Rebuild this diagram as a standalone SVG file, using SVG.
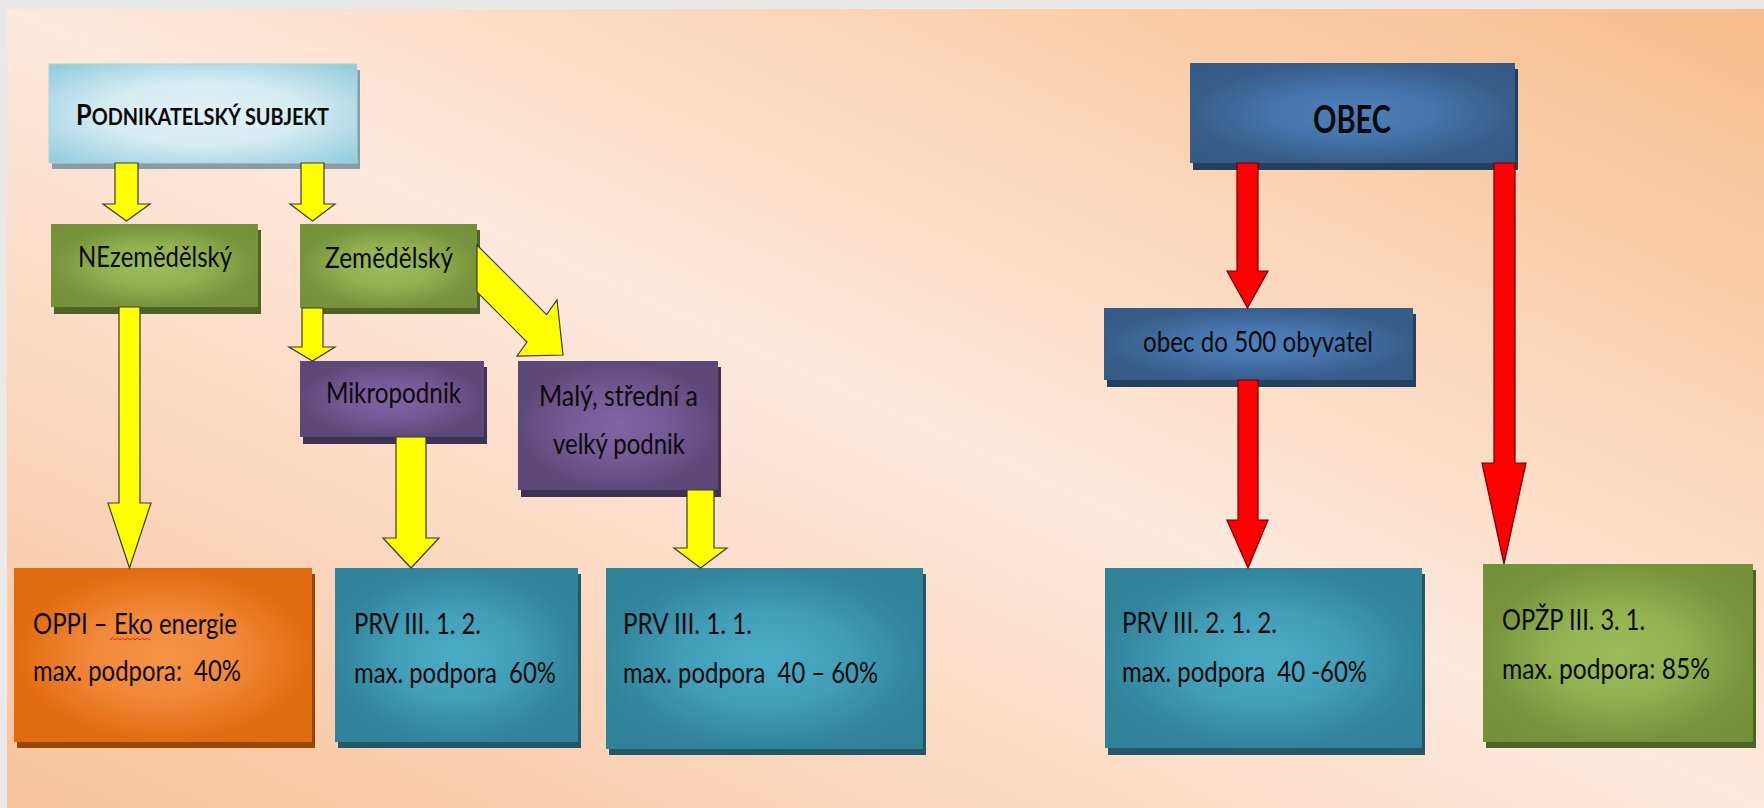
<svg xmlns="http://www.w3.org/2000/svg" width="1764" height="808" viewBox="0 0 1764 808" xml:space="preserve">
<defs>
<linearGradient id="bg" x1="1" y1="0" x2="0" y2="1">
<stop offset="0" stop-color="#f8bd8b"/>
<stop offset="0.5" stop-color="#fde9dd"/>
<stop offset="1" stop-color="#f8c29a"/>
</linearGradient>
<radialGradient id="gBlue" cx="0.5" cy="0.5" r="0.71">
<stop offset="0" stop-color="#e2f1f6"/>
<stop offset="0.45" stop-color="#d6ecf3"/>
<stop offset="1" stop-color="#8ecadb"/>
</radialGradient>
<radialGradient id="gGreen" cx="0.5" cy="0.5" r="0.71">
<stop offset="0" stop-color="#9dbd5b"/>
<stop offset="0.35" stop-color="#92b150"/>
<stop offset="0.7" stop-color="#77933c"/>
<stop offset="1" stop-color="#74903a"/>
</radialGradient>
<radialGradient id="gPurple" cx="0.5" cy="0.5" r="0.71">
<stop offset="0" stop-color="#8265a3"/>
<stop offset="0.35" stop-color="#765a96"/>
<stop offset="0.7" stop-color="#5f497a"/>
<stop offset="1" stop-color="#5c4776"/>
</radialGradient>
<radialGradient id="gOrange" cx="0.5" cy="0.5" r="0.71">
<stop offset="0" stop-color="#f79646"/>
<stop offset="0.35" stop-color="#f08838"/>
<stop offset="0.7" stop-color="#e26c10"/>
<stop offset="1" stop-color="#e06a0d"/>
</radialGradient>
<radialGradient id="gTeal" cx="0.5" cy="0.5" r="0.71">
<stop offset="0" stop-color="#4cacc6"/>
<stop offset="0.35" stop-color="#439fb8"/>
<stop offset="0.7" stop-color="#31849b"/>
<stop offset="1" stop-color="#2f8298"/>
</radialGradient>
<radialGradient id="gNavy" cx="0.5" cy="0.5" r="0.71">
<stop offset="0" stop-color="#4f81bd"/>
<stop offset="0.35" stop-color="#4674ac"/>
<stop offset="0.7" stop-color="#385d8a"/>
<stop offset="1" stop-color="#365a86"/>
</radialGradient>
<style>
text{font-family:Lato,"Open Sans","Liberation Sans",sans-serif;fill:#0a0a0a;white-space:pre;}
.lbl{font-size:28px;}
.big{font-size:29px;}
.yel{fill:#ffff00;stroke:#3a3a3a;stroke-width:1.2;stroke-linejoin:miter;}
.red{fill:#ff0000;stroke:#6a0000;stroke-width:1.2;stroke-linejoin:miter;}
</style>
</defs>

<rect x="0" y="0" width="1764" height="808" fill="#e9e9e9"/>
<rect x="7" y="9" width="1757" height="799" fill="url(#bg)"/>

<g id="node-podnikatelsky">
<rect x="52" y="70" width="308" height="99" fill="#8a9ca2"/>
<rect x="49" y="64" width="308" height="99" fill="url(#gBlue)" stroke="#a9d6e2" stroke-width="1"/>
<text x="76" y="125" font-weight="bold" textLength="253" lengthAdjust="spacingAndGlyphs"><tspan font-size="28">P</tspan><tspan font-size="22">ODNIKATELSKÝ SUBJEKT</tspan></text>
</g>

<g id="node-nezemedelsky">
<rect x="54" y="230" width="207" height="84" fill="#4f6228"/>
<rect x="51" y="224" width="207" height="83" fill="url(#gGreen)"/>
<text class="lbl" x="78" y="267" textLength="154" lengthAdjust="spacingAndGlyphs">NEzemědělský</text>
</g>

<g id="node-zemedelsky">
<rect x="303" y="230" width="177" height="84" fill="#4f6228"/>
<rect x="300" y="224" width="177" height="84" fill="url(#gGreen)"/>
<text class="lbl" x="325" y="268" textLength="128" lengthAdjust="spacingAndGlyphs">Zemědělský</text>
</g>

<g id="node-mikropodnik">
<rect x="303" y="367" width="184" height="77" fill="#3f3151"/>
<rect x="300" y="361" width="184" height="76" fill="url(#gPurple)"/>
<text class="lbl" x="326" y="403" textLength="135" lengthAdjust="spacingAndGlyphs">Mikropodnik</text>
</g>

<g id="node-maly">
<rect x="521" y="367" width="200" height="130" fill="#3f3151"/>
<rect x="518" y="361" width="200" height="129" fill="url(#gPurple)"/>
<text class="lbl" x="539" y="406" textLength="159" lengthAdjust="spacingAndGlyphs">Malý, střední a</text>
<text class="lbl" x="553" y="454" textLength="132" lengthAdjust="spacingAndGlyphs">velký podnik</text>
</g>

<g id="node-oppi">
<rect x="17" y="574" width="298" height="174" fill="#974806"/>
<rect x="14" y="568" width="298" height="174" fill="url(#gOrange)"/>
<text class="big" x="33" y="634" textLength="204" lengthAdjust="spacingAndGlyphs">OPPI – Eko energie</text>
<path d="M110 640 l2.5 -2 l2.5 2 l2.5 -2 l2.5 2 l2.5 -2 l2.5 2 l2.5 -2 l2.5 2 l2.5 -2 l2.5 2 l2.5 -2 l2.5 2 l2.5 -2 l2.5 2 l2.5 -2 l2.5 2" fill="none" stroke="#e02020" stroke-width="1"/>
<text class="big" x="33" y="681" textLength="208" lengthAdjust="spacingAndGlyphs">max. podpora:  40%</text>
</g>

<g id="node-prv112">
<rect x="338" y="574" width="243" height="174" fill="#215968"/>
<rect x="335" y="568" width="243" height="174" fill="url(#gTeal)"/>
<text class="big" x="354" y="634" textLength="127" lengthAdjust="spacingAndGlyphs">PRV III. 1. 2.</text>
<text class="big" x="354" y="683" textLength="202" lengthAdjust="spacingAndGlyphs">max. podpora  60%</text>
</g>

<g id="node-prv111">
<rect x="609" y="574" width="317" height="181" fill="#215968"/>
<rect x="606" y="568" width="317" height="181" fill="url(#gTeal)"/>
<text class="big" x="623" y="634" textLength="129" lengthAdjust="spacingAndGlyphs">PRV III. 1. 1.</text>
<text class="big" x="623" y="683" textLength="255" lengthAdjust="spacingAndGlyphs">max. podpora  40 – 60%</text>
</g>

<g id="node-obec">
<rect x="1193" y="69" width="325" height="101" fill="#244061"/>
<rect x="1190" y="63" width="325" height="100" fill="url(#gNavy)"/>
<text x="1313" y="133" font-size="38" font-weight="bold" textLength="78" lengthAdjust="spacingAndGlyphs">OBEC</text>
</g>

<g id="node-obec500">
<rect x="1107" y="314" width="309" height="73" fill="#244061"/>
<rect x="1104" y="308" width="309" height="72" fill="url(#gNavy)"/>
<text class="lbl" x="1143" y="352" textLength="230" lengthAdjust="spacingAndGlyphs">obec do 500 obyvatel</text>
</g>

<g id="node-prv212">
<rect x="1108" y="574" width="317" height="181" fill="#215968"/>
<rect x="1105" y="568" width="317" height="180" fill="url(#gTeal)"/>
<text class="big" x="1122" y="633" textLength="155" lengthAdjust="spacingAndGlyphs">PRV III. 2. 1. 2.</text>
<text class="big" x="1122" y="682" textLength="245" lengthAdjust="spacingAndGlyphs">max. podpora  40 -60%</text>
</g>

<g id="node-opzp">
<rect x="1486" y="570" width="270" height="178" fill="#4f6228"/>
<rect x="1483" y="564" width="270" height="178" fill="url(#gGreen)"/>
<text class="big" x="1502" y="630" textLength="143" lengthAdjust="spacingAndGlyphs">OPŽP III. 3. 1.</text>
<text class="big" x="1502" y="679" textLength="208" lengthAdjust="spacingAndGlyphs">max. podpora: 85%</text>
</g>

<g id="connectors">
<polygon class="yel" points="115,163 138,163 138,204 150,204 126.5,221 103,204 115,204"/>
<polygon class="yel" points="301,163 324,163 324,204 335,204 312.5,221 290,204 301,204"/>
<polygon class="yel" points="119,307 140,307 140,503 151,503 129.5,568 108,503 119,503"/>
<polygon class="yel" points="302,308 323,308 323,347 335,347 312.5,361 289,347 302,347"/>
<polygon class="yel" points="477,245 546.6,314.6 557,300 563,355 517,356 527,342 477,292"/>
<polygon class="yel" points="396,437 426,437 426,538 439,538 411,568 383,538 396,538"/>
<polygon class="yel" points="687,490 714,490 714,548 727,548 700.5,568 674,548 687,548"/>
<polygon class="red" points="1237,163 1258,163 1258,271 1268,271 1247.5,308 1227,271 1237,271"/>
<polygon class="red" points="1238,380 1258,380 1258,520 1268,520 1248,568 1227,520 1238,520"/>
<polygon class="red" points="1494,163 1515,163 1515,463 1526,463 1504,564 1482,463 1494,463"/>
</g>
</svg>
